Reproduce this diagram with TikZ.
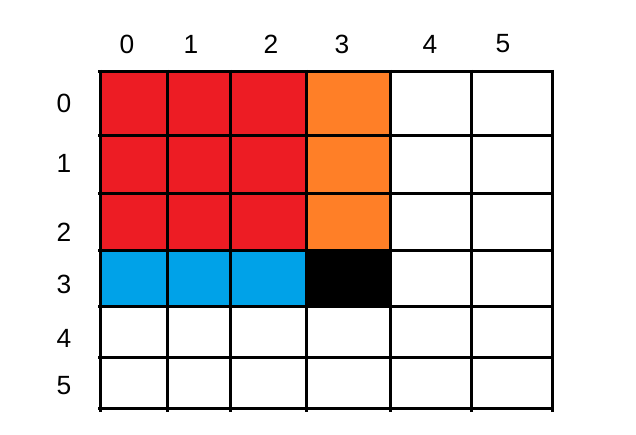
\documentclass[tikz,border=0pt]{standalone}
\usepackage{fontspec}
\setmainfont{Liberation Sans}
\usepackage{xcolor}
\usetikzlibrary{positioning}

\definecolor{cellred}{HTML}{ED1C24}
\definecolor{cellorange}{HTML}{FF7F27}
\definecolor{cellblue}{HTML}{00A2E8}

\begin{document}
\begin{tikzpicture}[x=0.02cm, y=-0.02cm,
    gridline/.style={line width=0.06cm, black},
    idx/.style={font=\fontsize{15}{18}\selectfont, inner sep=0pt}]

    \useasboundingbox (0,0) rectangle (636,435);

    % cells
    \fill[cellred] (100,72) rectangle (306,251);
    \fill[cellorange] (306,72) rectangle (390,251);
    \fill[cellblue] (100,251) rectangle (306,307);
    \fill[black] (306,251) rectangle (390,307);

    % grid
    \foreach \gx in {100,167,230,306,390,471,552}
        \draw[gridline] (\gx,70) -- (\gx,412);
    \foreach \gy in {72,136,194,251,307,358,409}
        \draw[gridline] (98,\gy) -- (554,\gy);

    % column labels
    \foreach \n/\cx in {0/127,1/191,2/271,3/342,4/430,5/503}
        \node[idx] (col\n) at (\cx,44) {\n};
    % row labels
    \foreach \n/\ry in {0/103,1/163,2/232,3/284,4/338,5/386}
        \node[idx] (row\n) at (64,\ry) {\n};
\end{tikzpicture}
\end{document}
